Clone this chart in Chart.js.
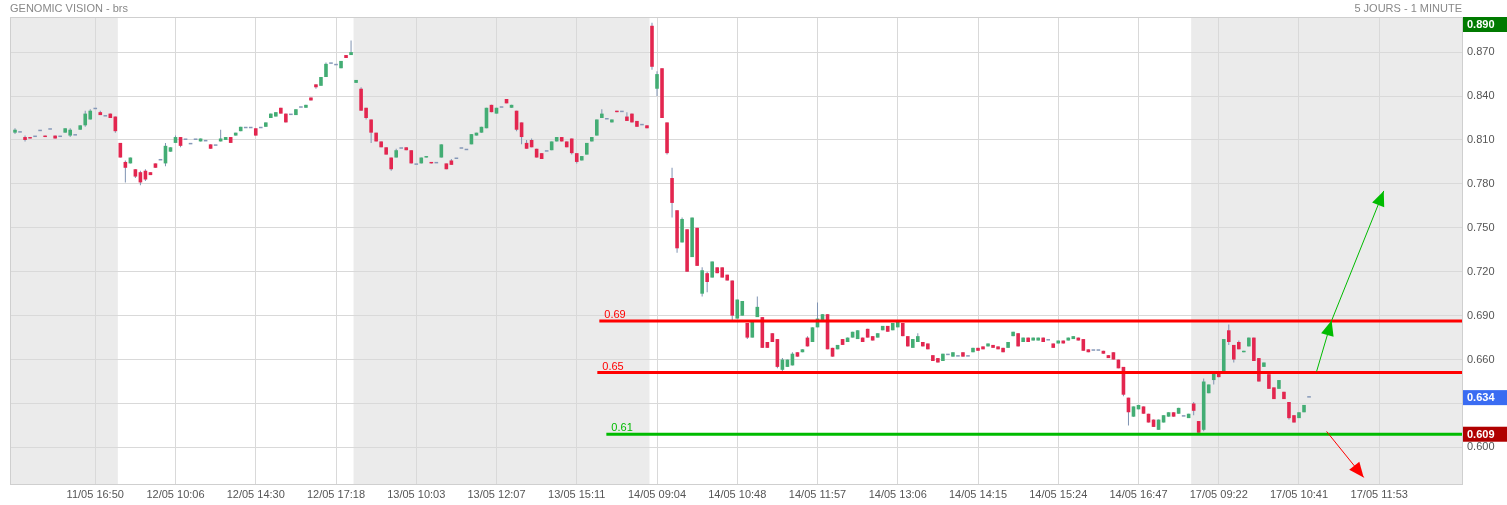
<!DOCTYPE html>
<html>
<head>
<meta charset="utf-8">
<title>GENOMIC VISION - brs</title>
<script src="https://cdn.jsdelivr.net/npm/chart.js@4.4.1/dist/chart.umd.min.js"></script>
<style>
    html, body { margin: 0; padding: 0; background: #fff; }
    #wrap { width: 1507px; height: 505px; position: relative; }
</style>
</head>
<body>
<div id="wrap"><canvas id="chart"></canvas></div>
<script>
var title = 'GENOMIC VISION - brs';
var period = '5 JOURS - 1 MINUTE';

// x axis: one slot per candle, a labelled tick every 16 slots
var tickLabels = ['11/05 16:50', '12/05 10:06', '12/05 14:30', '12/05 17:18', '13/05 10:03', '13/05 12:07',
    '13/05 15:11', '14/05 09:04', '14/05 10:48', '14/05 11:57', '14/05 13:06', '14/05 14:15', '14/05 15:24',
    '14/05 16:47', '17/05 09:22', '17/05 10:41', '17/05 11:53'];
var firstTick = 17;
var tickStep = 16;
var lastSlot = 289.5;

var yTicks = [0.600, 0.630, 0.660, 0.690, 0.720, 0.750, 0.780, 0.810, 0.840, 0.870];
var yMin = 0.575;
var yMax = 0.894;

// candles per session, [open, high, low, close]
var day11 = [null,
    [.815,.818,.814,.817], [.815,.815,.815,.815], [.812,.813,.809,.810], [.812,.812,.811,.811], [.812,.812,.812,.812],
    [.816,.816,.816,.816], [.813,.813,.812,.812], [.817,.817,.817,.817], [.813,.813,.811,.811], [.812,.812,.812,.812],
    [.815,.818,.815,.818], [.813,.818,.812,.817], [.813,.813,.813,.813], [.817,.820,.817,.820], [.820,.830,.819,.828],
    [.824,.831,.824,.830], [.831,.831,.831,.831], [.829,.830,.827,.827], [.826,.826,.826,.826], [.828,.828,.825,.825],
    [.826,.826,.815,.816]];

var day12 = [
    [.808,.808,.798,.798], [.795,.796,.781,.791], [.794,.798,.794,.798], [.790,.790,.784,.785], [.788,.789,.779,.781],
    [.789,.790,.782,.783], [.788,.788,.786,.786], [.794,.794,.791,.791], [.796,.796,.796,.796], [.794,.808,.792,.806],
    [.802,.805,.802,.805], [.808,.813,.808,.812], [.812,.812,.805,.806], [.810,.810,.810,.810], [.807,.807,.807,.807],
    [.810,.810,.810,.810], [.809,.811,.809,.811], [.809,.809,.809,.809], [.807,.807,.804,.804], [.806,.806,.806,.806],
    [.809,.817,.809,.811], [.810,.812,.810,.812], [.812,.812,.808,.808], [.813,.815,.813,.815], [.816,.819,.816,.819],
    [.818,.818,.818,.818], [.818,.818,.818,.818], [.818,.818,.813,.813], [.818,.818,.818,.818], [.819,.822,.819,.822],
    [.825,.828,.825,.828], [.826,.829,.826,.829], [.832,.832,.828,.828], [.828,.828,.822,.822], [.827,.827,.827,.827],
    [.827,.831,.827,.831], [.832,.832,.832,.832], [.832,.834,.832,.834], [.839,.839,.837,.837], [.848,.848,.845,.846],
    [.847,.853,.847,.853], [.853,.863,.853,.862], [.862,.862,.862,.862], [.861,.861,.861,.861], [.859,.864,.859,.864],
    [.868,.868,.866,.866], [.868,.878,.868,.870]];

var day13 = [
    [.849,.851,.849,.851], [.845,.846,.830,.830], [.832,.832,.824,.825], [.824,.824,.808,.815], [.815,.815,.809,.809],
    [.809,.809,.805,.805], [.805,.805,.800,.800], [.798,.798,.789,.790], [.798,.804,.798,.803], [.804,.804,.804,.804],
    [.805,.805,.803,.803], [.803,.803,.794,.794], [.793,.793,.793,.793], [.794,.798,.794,.798], [.798,.799,.798,.799],
    [.795,.795,.794,.794], [.794,.794,.794,.794], [.798,.807,.798,.807], [.794,.794,.790,.790], [.796,.797,.793,.793],
    [.797,.797,.797,.797], [.804,.804,.804,.804], [.803,.803,.803,.803], [.807,.814,.807,.814], [.813,.815,.813,.815],
    [.815,.819,.815,.819], [.818,.832,.818,.832], [.834,.834,.829,.829], [.828,.832,.828,.832], [.832,.832,.832,.832],
    [.838,.838,.835,.835], [.832,.834,.832,.834], [.830,.830,.816,.817], [.822,.822,.807,.812], [.808,.810,.804,.804],
    [.810,.811,.805,.805], [.804,.804,.798,.798], [.801,.801,.797,.797], [.802,.802,.802,.802], [.803,.809,.803,.809],
    [.809,.812,.809,.812], [.812,.812,.809,.809], [.809,.809,.805,.805], [.811,.811,.800,.801], [.801,.801,.794,.795],
    [.796,.799,.796,.799], [.800,.808,.800,.808], [.809,.812,.809,.812], [.813,.824,.813,.824], [.825,.831,.825,.828],
    [.824,.824,.824,.824], [.822,.824,.822,.824], [.830,.830,.829,.829], [.829,.829,.829,.829], [.826,.829,.823,.823],
    [.828,.828,.822,.822], [.823,.823,.819,.819], [.820,.820,.820,.820], [.820,.820,.818,.818]];

var day14 = [
    [.888,.890,.858,.860], [.845,.857,.840,.855], [.859,.859,.825,.825], [.822,.822,.800,.801], [.784,.791,.757,.767],
    [.762,.762,.733,.736], [.740,.757,.740,.756], [.749,.749,.720,.720], [.730,.757,.730,.757], [.750,.750,.724,.724],
    [.705,.723,.703,.721], [.719,.720,.706,.713], [.716,.727,.716,.727], [.723,.723,.719,.719], [.723,.723,.716,.716],
    [.718,.718,.714,.714], [.714,.714,.687,.690], [.688,.701,.688,.701], [.690,.700,.690,.700], [.685,.685,.674,.675],
    [.675,.687,.675,.687], [.689,.703,.689,.696], [.689,.689,.668,.668], [.672,.672,.668,.668], [.678,.678,.672,.672],
    [.674,.674,.654,.655], [.653,.661,.652,.660], [.655,.660,.655,.660], [.656,.665,.656,.664], [.665,.665,.662,.662],
    [.665,.667,.665,.667], [.675,.676,.669,.669], [.672,.682,.672,.682], [.682,.699,.682,.688], [.687,.691,.687,.691],
    [.691,.691,.667,.667], [.668,.668,.662,.662], [.667,.670,.667,.670], [.674,.674,.670,.670], [.672,.675,.672,.675],
    [.675,.679,.675,.679], [.674,.680,.674,.680], [.675,.675,.672,.672], [.681,.681,.675,.675], [.676,.676,.673,.673],
    [.675,.678,.675,.678], [.680,.683,.680,.683], [.683,.683,.679,.679], [.680,.685,.680,.685], [.682,.686,.682,.686],
    [.685,.685,.676,.676], [.676,.676,.669,.669], [.668,.674,.668,.674], [.672,.678,.672,.676], [.672,.672,.669,.669],
    [.671,.671,.667,.667], [.663,.663,.659,.659], [.661,.661,.658,.658], [.659,.664,.659,.664], [.663,.663,.663,.663],
    [.662,.665,.662,.665], [.662,.662,.662,.662], [.665,.665,.662,.662], [.662,.662,.662,.662], [.665,.668,.665,.668],
    [.668,.668,.666,.666], [.669,.669,.667,.667], [.669,.671,.669,.671], [.670,.670,.668,.668], [.669,.669,.667,.667],
    [.668,.668,.665,.665], [.668,.672,.668,.672], [.676,.679,.676,.679], [.678,.678,.669,.669], [.672,.675,.672,.675],
    [.675,.675,.672,.672], [.673,.675,.673,.675], [.673,.675,.673,.675], [.675,.675,.672,.672], [.673,.673,.673,.673],
    [.671,.671,.668,.668], [.671,.673,.671,.673], [.673,.673,.671,.671], [.673,.675,.673,.675], [.674,.676,.674,.676],
    [.675,.675,.673,.673], [.674,.674,.666,.666], [.667,.667,.665,.665], [.666,.666,.666,.666], [.666,.666,.666,.666],
    [.666,.666,.664,.664], [.663,.663,.661,.661], [.665,.665,.660,.660], [.660,.660,.654,.654], [.655,.655,.635,.636],
    [.634,.634,.615,.624], [.621,.628,.621,.628], [.626,.629,.626,.629], [.628,.628,.623,.623], [.623,.623,.617,.617],
    [.619,.619,.614,.614], [.612,.619,.612,.619], [.617,.622,.617,.622], [.621,.624,.621,.624], [.624,.624,.621,.621],
    [.623,.627,.623,.627], [.621,.621,.621,.621], [.620,.623,.620,.623]];

var day17 = [
    [.630,.631,.622,.625], [.618,.618,.610,.610], [.612,.647,.611,.645], [.637,.643,.637,.643], [.646,.652,.643,.652],
    [.651,.651,.648,.648], [.652,.674,.652,.674], [.680,.684,.670,.672], [.670,.670,.658,.660], [.672,.673,.667,.667],
    [.665,.666,.665,.666], [.669,.675,.669,.675], [.675,.675,.659,.659], [.661,.661,.645,.645], [.655,.658,.655,.658],
    [.650,.650,.640,.640], [.641,.641,.633,.633], [.640,.646,.640,.646], [.638,.638,.633,.633], [.631,.631,.619,.620],
    [.622,.622,.617,.617], [.620,.624,.620,.624], [.624,.629,.624,.629], [.634,.634,.634,.634]];

var days = [day11, day12, day13, day14, day17];
var shadedDays = [true, false, true, false, true];

// drawn support / resistance levels and trend arrows (slot, price)
var levels = [
    { value: 0.6864, text: '0.69', color: '#ff0000', from: 117.5 },
    { value: 0.6511, text: '0.65', color: '#ff0000', from: 117.1 },
    { value: 0.6090, text: '0.61', color: '#00bb00', from: 118.9 }
];
var arrows = [
    { from: [260.5, 0.6518], to: [263.5, 0.6866], color: '#00bb00' },
    { from: [263.5, 0.6866], to: [273.9, 0.7752], color: '#00bb00' },
    { from: [262.5, 0.6109], to: [269.9, 0.5795], color: '#ff0000' }
];

var UP = '#43ad74';
var DOWN = '#e3264f';
var WICK = '#7f93b2';
var FLAT = '#8598b8';
var FONT = '"Liberation Sans", Arial, sans-serif';

var wicks = [];
var bodies = [];
var bodyColors = [];
var flats = [];
var bands = [];
var slot = 0;
var maxHigh = 0;
var lastClose = null;
days.forEach(function (day, d) {
    var start = slot;
    day.forEach(function (c) {
        if (c) {
            if (c[1] > c[2]) {
                wicks.push({ x: slot, y: [c[2], c[1]] });
            }
            if (c[0] === c[3]) {
                flats.push({ x: slot, y: [c[0], c[0]] });
            } else {
                bodies.push({ x: slot, y: [Math.min(c[0], c[3]), Math.max(c[0], c[3])] });
                bodyColors.push(c[3] > c[0] ? UP : DOWN);
            }
            maxHigh = Math.max(maxHigh, c[1]);
            lastClose = c[3];
        }
        slot++;
    });
    if (shadedDays[d]) {
        bands.push([d === 0 ? 0 : start - 0.5, d === days.length - 1 ? lastSlot : slot - 0.5]);
    }
});

var badges = [
    { value: maxHigh, color: '#007a00' },
    { value: lastClose, color: '#3a6cf2' },
    { value: levels[2].value, color: '#b00000' }
];

var datasets = [{
    type: 'bar', data: wicks, backgroundColor: WICK, grouped: false, maxBarThickness: 1, order: 3
}, {
    type: 'bar', data: bodies, backgroundColor: bodyColors, grouped: false, maxBarThickness: 4, order: 2
}, {
    type: 'bar', data: flats, backgroundColor: FLAT, grouped: false, maxBarThickness: 5, minBarLength: 1.5, order: 1
}];
levels.forEach(function (lv) {
    datasets.push({
        type: 'line',
        data: [{ x: lv.from, y: lv.value }, { x: lastSlot, y: lv.value }],
        borderColor: lv.color,
        borderWidth: 3,
        pointRadius: 0,
        order: 0
    });
});

var decor = {
    id: 'decor',
    beforeDraw: function (chart) {
        var ctx = chart.ctx, a = chart.chartArea, xs = chart.scales.x;
        ctx.save();
        ctx.fillStyle = '#ebebeb';
        bands.forEach(function (b) {
            var x0 = xs.getPixelForValue(b[0]), x1 = xs.getPixelForValue(b[1]);
            ctx.fillRect(x0, a.top, x1 - x0, a.bottom - a.top);
        });
        ctx.restore();
    },
    afterDatasetsDraw: function (chart) {
        var ctx = chart.ctx, xs = chart.scales.x, ys = chart.scales.y;
        ctx.save();
        ctx.font = '11px ' + FONT;
        ctx.textBaseline = 'alphabetic';
        levels.forEach(function (lv) {
            ctx.fillStyle = lv.color;
            ctx.fillText(lv.text, xs.getPixelForValue(lv.from) + 5, ys.getPixelForValue(lv.value) - 3);
        });
        arrows.forEach(function (ar) {
            var x0 = xs.getPixelForValue(ar.from[0]), y0 = ys.getPixelForValue(ar.from[1]);
            var x1 = xs.getPixelForValue(ar.to[0]), y1 = ys.getPixelForValue(ar.to[1]);
            var ang = Math.atan2(y1 - y0, x1 - x0);
            ctx.strokeStyle = ar.color;
            ctx.fillStyle = ar.color;
            ctx.lineWidth = 1;
            ctx.beginPath();
            ctx.moveTo(x0, y0);
            ctx.lineTo(x1, y1);
            ctx.stroke();
            ctx.beginPath();
            ctx.moveTo(x1, y1);
            ctx.lineTo(x1 - 15 * Math.cos(ang) + 6.5 * Math.sin(ang), y1 - 15 * Math.sin(ang) - 6.5 * Math.cos(ang));
            ctx.lineTo(x1 - 15 * Math.cos(ang) - 6.5 * Math.sin(ang), y1 - 15 * Math.sin(ang) + 6.5 * Math.cos(ang));
            ctx.closePath();
            ctx.fill();
        });
        ctx.restore();
    },
    afterDraw: function (chart) {
        var ctx = chart.ctx, a = chart.chartArea, ys = chart.scales.y;
        ctx.save();
        ctx.strokeStyle = '#cfcfcf';
        ctx.lineWidth = 1;
        ctx.strokeRect(Math.round(a.left) + 0.5, Math.round(a.top) + 0.5,
            Math.round(a.right - a.left), Math.round(a.bottom - a.top));

        ctx.font = '11px ' + FONT;
        ctx.fillStyle = '#888';
        ctx.textBaseline = 'middle';
        ctx.textAlign = 'left';
        ctx.fillText(title, a.left, 9);
        ctx.textAlign = 'right';
        ctx.fillText(period, a.right, 9);

        ctx.textAlign = 'left';
        ctx.font = 'bold 11px ' + FONT;
        badges.forEach(function (b) {
            var y = ys.getPixelForValue(b.value);
            var top = Math.max(a.top, y - 7.5);
            ctx.fillStyle = b.color;
            ctx.fillRect(a.right + 1, top, chart.width - a.right - 1, 15);
            ctx.fillStyle = '#fff';
            ctx.fillText(b.value.toFixed(3), a.right + 5, top + 8);
        });
        ctx.restore();
    }
};

var config = {
    type: 'bar',
    data: { datasets: datasets },
    options: {
        responsive: true,
        maintainAspectRatio: false,
        devicePixelRatio: 1,
        animation: false,
        events: [],
        layout: { padding: { top: 17, left: 10, right: 0, bottom: 0 } },
        elements: { bar: { borderWidth: 0, borderSkipped: false } },
        plugins: { legend: { display: false }, tooltip: { enabled: false } },
        scales: {
            x: {
                type: 'linear',
                min: 0,
                max: lastSlot,
                offset: false,
                grid: { color: '#d9d9d9', drawTicks: false, offset: false },
                border: { display: false },
                afterBuildTicks: function (axis) {
                    axis.ticks = tickLabels.map(function (t, j) {
                        return { value: firstTick + j * tickStep };
                    });
                },
                afterFit: function (axis) {
                    axis.height = 21;
                },
                ticks: {
                    autoSkip: false,
                    maxRotation: 0,
                    padding: 4,
                    color: '#555',
                    font: { family: FONT, size: 11 },
                    callback: function (v, i) {
                        return tickLabels[i];
                    }
                }
            },
            y: {
                type: 'linear',
                position: 'right',
                min: yMin,
                max: yMax,
                grid: { color: '#d9d9d9', drawTicks: false },
                border: { display: false },
                afterBuildTicks: function (axis) {
                    axis.ticks = yTicks.map(function (v) {
                        return { value: v };
                    });
                },
                afterFit: function (axis) {
                    axis.width = 45;
                },
                ticks: {
                    padding: 5,
                    color: '#555',
                    font: { family: FONT, size: 11 },
                    callback: function (v) {
                        // labels sitting right under a price badge are hidden by it
                        for (var i = 0; i < badges.length; i++) {
                            if (Math.abs(v - badges[i].value) < 0.005) {
                                return '';
                            }
                        }
                        return v.toFixed(3);
                    }
                }
            }
        }
    },
    plugins: [decor]
};

new Chart(document.getElementById('chart').getContext('2d'), config);
</script>
</body>
</html>
